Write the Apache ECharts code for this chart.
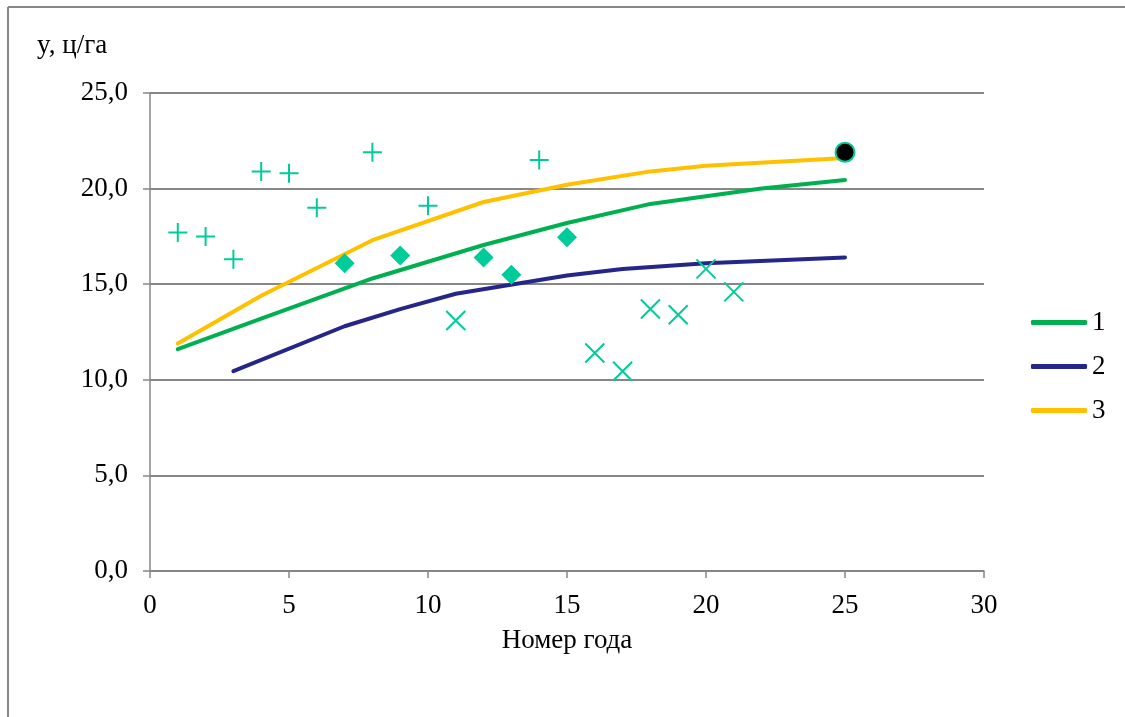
<!DOCTYPE html>
<html>
<head>
<meta charset="utf-8">
<script src="https://cdn.jsdelivr.net/npm/echarts@6/dist/echarts.min.js"></script>
<style>
html,body{margin:0;padding:0;background:#fff;}
#chart{width:1125px;height:717px;}
</style>
</head>
<body>
<div id="chart"></div>
<script>
// Curves (x = year number, y = yield)
var line1 = [[1, 11.6], [4, 13.2], [8, 15.3], [12, 17.05], [15, 18.2], [18, 19.2], [22, 20.0], [25, 20.45]];
var line2 = [[3, 10.45], [7, 12.8], [9, 13.7], [11, 14.5], [15, 15.45], [17, 15.8], [20, 16.1], [25, 16.4]];
var line3 = [[1, 11.9], [4, 14.4], [8, 17.3], [12, 19.3], [15, 20.2], [18, 20.9], [20, 21.2], [25, 21.6]];
// Observed points
var plusPts = [[1, 17.7], [2, 17.5], [3, 16.3], [4, 20.9], [5, 20.8], [6, 19.0], [8, 21.9], [10, 19.1], [14, 21.5]];
var diamondPts = [[7, 16.1], [9, 16.5], [12, 16.4], [13, 15.5], [15, 17.45]];
var crossPts = [[11, 13.1], [16, 11.4], [17, 10.45], [18, 13.7], [19, 13.4], [20, 15.8], [21, 14.6]];
var endPt = [[25, 21.9]];
var legendNames = ['1', '2', '3'];

var FONT = 'Liberation Serif';
var FS = 27;
var MARK = '#00CC99';
var GRAYC = '#878787';

var chart = echarts.init(document.getElementById('chart'), null, {renderer: 'canvas'});

function lineSeries(name, data, color) {
  return {
    name: name, type: 'line', data: data, showSymbol: false, symbol: 'none',
    lineStyle: {color: color, width: 4, cap: 'round', join: 'round'},
    itemStyle: {color: color},
    emphasis: {disabled: true}, z: 2
  };
}

var option = {
  backgroundColor: '#fff',
  animation: false,
  textStyle: {fontFamily: FONT},
  grid: {left: 150, right: 141, top: 93, bottom: 146},
  legend: {
    orient: 'vertical', left: 1026, top: 304,
    data: legendNames.map(function (n) { return {name: n, icon: 'roundRect'}; }),
    itemWidth: 56, itemHeight: 5, itemGap: 17,
    textStyle: {fontFamily: FONT, fontSize: FS, color: '#000'},
    selectedMode: false
  },
  xAxis: {
    type: 'value', min: 0, max: 30, interval: 5,
    name: 'Номер года', nameLocation: 'middle', nameGap: 56,
    nameTextStyle: {fontFamily: FONT, fontSize: FS, color: '#000'},
    axisLine: {show: true, lineStyle: {color: GRAYC, width: 1.5}},
    axisTick: {show: true, length: 7, lineStyle: {color: GRAYC, width: 1.5}},
    axisLabel: {fontFamily: FONT, fontSize: FS, color: '#000', margin: 21},
    splitLine: {show: false}
  },
  yAxis: {
    type: 'value', min: 0, max: 25, interval: 5,
    axisLine: {show: true, lineStyle: {color: GRAYC, width: 1.5}},
    axisTick: {show: true, length: 7, lineStyle: {color: GRAYC, width: 1.5}},
    axisLabel: {
      fontFamily: FONT, fontSize: FS, color: '#000', margin: 22,
      formatter: function (v) { return v.toFixed(1).replace('.', ','); }
    },
    splitLine: {show: true, lineStyle: {color: GRAYC, width: 2}}
  },
  graphic: [
    {type: 'line', shape: {x1: 8, y1: 7, x2: 1125, y2: 7}, style: {stroke: GRAYC, lineWidth: 2}, silent: true},
    {type: 'line', shape: {x1: 8, y1: 7, x2: 8, y2: 717}, style: {stroke: GRAYC, lineWidth: 2}, silent: true},
    {type: 'text', left: 37, top: 32, style: {text: 'y, ц/га', font: FS + 'px "Liberation Serif"', fill: '#000'}, silent: true}
  ],
  series: [
    lineSeries(legendNames[0], line1, '#00B050'),
    lineSeries(legendNames[1], line2, '#262688'),
    lineSeries(legendNames[2], line3, '#FFC000'),
    {
      name: 'plus', type: 'scatter', data: plusPts,
      symbol: 'path://M10,0 L10,20 M0,10 L20,10', symbolSize: 19,
      itemStyle: {color: 'rgba(0,0,0,0)', borderColor: MARK, borderWidth: 2, opacity: 1},
      emphasis: {disabled: true}, z: 3
    },
    {
      name: 'diamond', type: 'scatter', data: diamondPts,
      symbol: 'diamond', symbolSize: [20, 20],
      itemStyle: {color: MARK, opacity: 1},
      emphasis: {disabled: true}, z: 3
    },
    {
      name: 'cross', type: 'scatter', data: crossPts,
      symbol: 'path://M0,0 L20,20 M20,0 L0,20', symbolSize: 19,
      itemStyle: {color: 'rgba(0,0,0,0)', borderColor: MARK, borderWidth: 2, opacity: 1},
      emphasis: {disabled: true}, z: 3
    },
    {
      name: 'end', type: 'scatter', data: endPt,
      symbol: 'circle', symbolSize: 19,
      itemStyle: {color: '#000', borderColor: MARK, borderWidth: 2, opacity: 1},
      emphasis: {disabled: true}, z: 4
    }
  ]
};
chart.setOption(option);
</script>
</body>
</html>
